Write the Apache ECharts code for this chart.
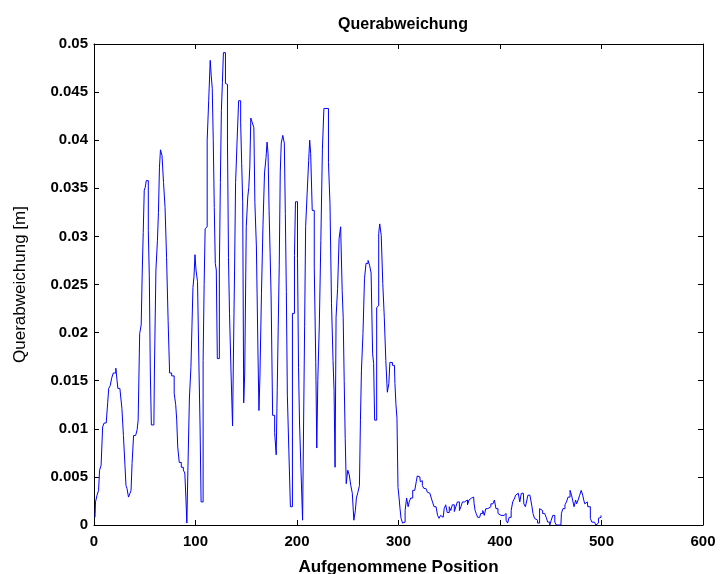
<!DOCTYPE html>
<html>
<head>
<meta charset="utf-8">
<script src="https://cdn.jsdelivr.net/npm/echarts@6/dist/echarts.min.js"></script>
<style>
  html, body { margin: 0; padding: 0; background: #fff; }
  #Querabweichung { width: 720px; height: 574px; }
</style>
</head>
<body>
<div id="Querabweichung"></div>
<script>
// aufgenommene Position (Index) und Querabweichung [m]
const positions = [
  1, 2, 4, 5, 6, 8, 9, 11, 13, 14, 15, 17, 18, 20, 23, 24, 27, 28, 30, 31,
  32, 33, 35, 36, 37, 38, 40, 42, 43, 44, 46, 47, 48, 49, 50, 51, 52, 53, 54, 55,
  56, 57, 59, 60, 62, 63, 64, 65, 66, 68, 69, 71, 72, 74, 75, 78, 80, 81, 82, 83,
  85, 87, 89, 90, 91, 92, 93, 95, 96, 97, 98, 99, 100, 101, 103, 104, 105, 106, 107, 108,
  109, 110, 111, 112, 114, 115, 116, 117, 118, 119, 120, 121, 122, 123, 124, 125, 126, 127, 128, 129,
  130, 131, 132, 133, 134, 136, 137, 138, 139, 140, 142, 143, 144, 145, 146, 147, 148, 149, 151, 152,
  153, 154, 155, 157, 158, 159, 161, 162, 163, 164, 166, 167, 169, 170, 171, 172, 173, 174, 175, 177,
  179, 180, 181, 182, 183, 184, 185, 187, 188, 189, 190, 191, 193, 194, 195, 196, 197, 198, 199, 200,
  201, 202, 203, 205, 206, 207, 208, 209, 211, 212, 213, 214, 216, 218, 219, 220, 221, 223, 224, 226,
  227, 230, 232, 233, 235, 236, 237, 238, 239, 241, 242, 244, 245, 246, 247, 248, 249, 251, 252, 254,
  255, 257, 258, 259, 261, 262, 263, 264, 266, 267, 269, 271, 272, 274, 275, 276, 277, 278, 279, 280,
  281, 282, 284, 285, 287, 288, 290, 291, 292, 296, 297, 298, 299, 300, 301, 302, 303, 305, 306, 307,
  309, 310, 311, 313, 315, 317, 318, 319, 321, 322, 323, 324, 326, 328, 329, 331, 333, 334, 336, 338,
  339, 341, 342, 344, 346, 347, 349, 351, 352, 354, 356, 357, 359, 361, 362, 364, 366, 367, 369, 370,
  372, 374, 375, 376, 377, 379, 380, 382, 384, 385, 387, 389, 390, 392, 394, 395, 397, 399, 400, 402,
  403, 405, 407, 408, 410, 412, 413, 415, 416, 417, 419, 420, 422, 423, 424, 426, 427, 428, 431, 432,
  433, 435, 436, 438, 440, 441, 443, 445, 446, 448, 450, 451, 453, 455, 456, 460, 461, 463, 465, 466,
  468, 470, 471, 472, 474, 475, 476, 478, 479, 481, 482, 483, 484, 486, 487, 488, 490, 491, 492, 494,
  495, 496, 498, 499, 500
];
const deviation = [
  0.0008, 0.0024, 0.0031, 0.0036, 0.0057, 0.0062, 0.0102, 0.0106, 0.0107, 0.0127, 0.0142, 0.0145, 0.0153, 0.0158, 0.0163, 0.0142, 0.0140, 0.0121, 0.0093, 0.0062,
  0.0041, 0.0038, 0.0029, 0.0033, 0.0036, 0.0064, 0.0093, 0.0093, 0.0099, 0.0109, 0.0199, 0.0208, 0.0262, 0.0304, 0.0348, 0.0351, 0.0358, 0.0358, 0.0306, 0.0258,
  0.0158, 0.0104, 0.0104, 0.0159, 0.0265, 0.0296, 0.0325, 0.0372, 0.0390, 0.0384, 0.0356, 0.0330, 0.0278, 0.0213, 0.0158, 0.0155, 0.0137, 0.0125, 0.0109, 0.0081,
  0.0065, 0.0060, 0.0057, 0.0054, 0.0029, 0.0002, 0.0057, 0.0132, 0.0164, 0.0206, 0.0247, 0.0258, 0.0281, 0.0265, 0.0253, 0.0159, 0.0102, 0.0024, 0.0024, 0.0171,
  0.0250, 0.0308, 0.0310, 0.0400, 0.0441, 0.0483, 0.0467, 0.0454, 0.0400, 0.0330, 0.0272, 0.0265, 0.0173, 0.0173, 0.0265, 0.0356, 0.0431, 0.0460, 0.0491, 0.0491,
  0.0459, 0.0458, 0.0398, 0.0278, 0.0220, 0.0159, 0.0103, 0.0187, 0.0265, 0.0356, 0.0400, 0.0441, 0.0441, 0.0418, 0.0376, 0.0336, 0.0127, 0.0158, 0.0310, 0.0341,
  0.0351, 0.0372, 0.0423, 0.0418, 0.0413, 0.0335, 0.0289, 0.0182, 0.0119, 0.0155, 0.0241, 0.0312, 0.0366, 0.0382, 0.0398, 0.0386, 0.0327, 0.0283, 0.0237, 0.0114,
  0.0096, 0.0073, 0.0140, 0.0206, 0.0270, 0.0367, 0.0397, 0.0405, 0.0397, 0.0324, 0.0243, 0.0135, 0.0076, 0.0019, 0.0019, 0.0220, 0.0220, 0.0280, 0.0336, 0.0336,
  0.0277, 0.0164, 0.0106, 0.0055, 0.0005, 0.0106, 0.0206, 0.0310, 0.0345, 0.0379, 0.0400, 0.0386, 0.0327, 0.0268, 0.0169, 0.0080, 0.0150, 0.0209, 0.0296, 0.0390,
  0.0433, 0.0433, 0.0377, 0.0334, 0.0230, 0.0171, 0.0140, 0.0060, 0.0216, 0.0246, 0.0298, 0.0310, 0.0244, 0.0216, 0.0150, 0.0090, 0.0043, 0.0057, 0.0052, 0.0041,
  0.0033, 0.0005, 0.0015, 0.0028, 0.0034, 0.0041, 0.0109, 0.0161, 0.0199, 0.0256, 0.0272, 0.0275, 0.0270, 0.0262, 0.0178, 0.0168, 0.0109, 0.0109, 0.0226, 0.0228,
  0.0303, 0.0313, 0.0301, 0.0251, 0.0216, 0.0171, 0.0138, 0.0147, 0.0169, 0.0166, 0.0147, 0.0125, 0.0111, 0.0039, 0.0029, 0.0017, 0.0007, 0.0002, 0.0003, 0.0015,
  0.0028, 0.0019, 0.0024, 0.0028, 0.0036, 0.0036, 0.0045, 0.0051, 0.0050, 0.0045, 0.0046, 0.0041, 0.0038, 0.0037, 0.0034, 0.0033, 0.0029, 0.0024, 0.0019, 0.0017,
  0.0010, 0.0007, 0.0010, 0.0008, 0.0017, 0.0021, 0.0013, 0.0019, 0.0015, 0.0021, 0.0014, 0.0019, 0.0024, 0.0015, 0.0019, 0.0024, 0.0022, 0.0026, 0.0021, 0.0026,
  0.0028, 0.0029, 0.0022, 0.0015, 0.0012, 0.0008, 0.0008, 0.0012, 0.0015, 0.0010, 0.0017, 0.0015, 0.0019, 0.0022, 0.0024, 0.0026, 0.0017, 0.0012, 0.0010, 0.0008,
  0.0010, 0.0012, 0.0005, 0.0002, 0.0008, 0.0015, 0.0024, 0.0027, 0.0031, 0.0033, 0.0033, 0.0024, 0.0033, 0.0033, 0.0022, 0.0019, 0.0026, 0.0031, 0.0031, 0.0019,
  0.0012, 0.0007, 0.0005, 0.0002, 0.0017, 0.0015, 0.0012, 0.0013, 0.0008, 0.0003, 0.0000, 0.0005, 0.0010, 0.0003, 0.0000, 0.0000, 0.0012, 0.0017, 0.0021, 0.0024,
  0.0029, 0.0036, 0.0031, 0.0026, 0.0019, 0.0026, 0.0022, 0.0026, 0.0031, 0.0036, 0.0031, 0.0026, 0.0022, 0.0024, 0.0019, 0.0019, 0.0007, 0.0003, 0.0003, 0.0002,
  0.0000, 0.0002, 0.0007, 0.0008, 0.0010
];

// Achsen
const xRange = [0, 600];
const xStep = 100;
const yRange = [0, 0.05];
const yStep = 0.005;

const titleText = 'Querabweichung';
const xName = 'Aufgenommene Position';
const yName = 'Querabweichung [m]';

const font = 'Liberation Sans, Arial, sans-serif';
const labelStyle = { color: '#000', fontFamily: font, fontWeight: 'bold', fontSize: 15 };

function frameAxis(pos, isX) {
  return {
    type: 'value',
    position: pos,
    min: isX ? xRange[0] : yRange[0],
    max: isX ? xRange[1] : yRange[1],
    interval: isX ? xStep : yStep,
    axisLine: { show: true, onZero: false, lineStyle: { color: '#000', width: 1 } },
    axisTick: { show: true, inside: true, length: 5, lineStyle: { color: '#000' } },
    axisLabel: { show: false },
    splitLine: { show: false }
  };
}

const myChart = echarts.init(document.getElementById('Querabweichung'));

const xBottom = frameAxis('bottom', true);
xBottom.axisLabel = Object.assign({ show: true, margin: 9 }, labelStyle);
xBottom.name = xName;
xBottom.nameLocation = 'middle';
xBottom.nameGap = 34;
xBottom.nameTextStyle = { color: '#000', fontFamily: font, fontWeight: 'bold', fontSize: 17 };

const yLeft = frameAxis('left', false);
yLeft.axisLabel = Object.assign({
  show: true,
  margin: 6,
  formatter: v => String(+v.toFixed(3))
}, labelStyle);
yLeft.name = yName;
yLeft.nameLocation = 'middle';
yLeft.nameGap = 65;
yLeft.nameTextStyle = { color: '#000', fontFamily: font, fontWeight: 'normal', fontSize: 17 };

let option = {
  animation: false,
  backgroundColor: '#fff',
  title: {
    text: titleText,
    left: 398,
    top: 12,
    textAlign: 'center',
    textStyle: { color: '#000', fontFamily: font, fontWeight: 'bold', fontSize: 16 }
  },
  grid: { left: 94, top: 44, width: 609, height: 481, containLabel: false, outerBoundsMode: 'none' },
  xAxis: [xBottom, frameAxis('top', true)],
  yAxis: [yLeft, frameAxis('right', false)],
  series: [{
    type: 'line',
    xAxisIndex: 0,
    yAxisIndex: 0,
    data: positions.map((p, i) => [p, deviation[i]]),
    step: 'middle',
    showSymbol: false,
    lineStyle: { color: '#0000ff', width: 1 },
    itemStyle: { color: '#0000ff' }
  }]
};

myChart.setOption(option);
</script>
</body>
</html>
